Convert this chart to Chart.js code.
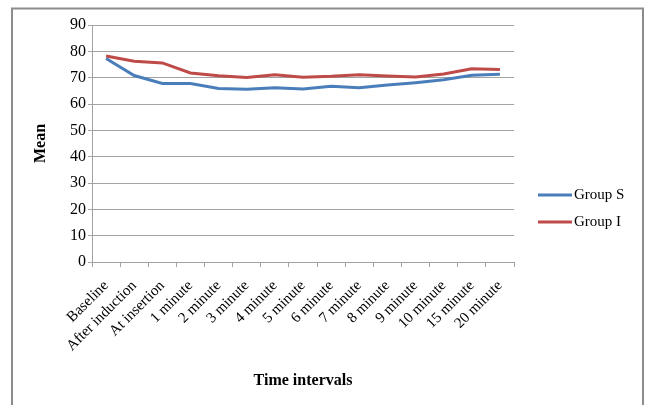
<!DOCTYPE html>
<html>
<head>
<meta charset="utf-8">
<script src="https://cdn.jsdelivr.net/npm/chart.js@4/dist/chart.umd.min.js"></script>
<style>
  html, body { margin: 0; padding: 0; background: #ffffff; }
  canvas { display: block; }
</style>
</head>
<body>
<canvas id="chart" width="646" height="405"></canvas>
<script>
// Time points of the measurement
const timeIntervals = [
  'Baseline', 'After induction', 'At insertion', '1 minute', '2 minute',
  '3 minute', '4 minute', '5 minute', '6 minute', '7 minute',
  '8 minute', '9 minute', '10 minute', '15 minute', '20 minute'
];

// Mean values per group
const groupS = [77.3, 70.8, 67.8, 67.8, 65.9, 65.6, 66.2, 65.7, 66.7, 66.2, 67.2, 68.1, 69.2, 70.9, 71.3];
const groupI = [78.2, 76.2, 75.6, 71.8, 70.7, 70.1, 71.1, 70.2, 70.5, 71.1, 70.6, 70.3, 71.4, 73.4, 73.1];

// Y axis range
const yMin = 0;
const yMax = 90;
const yStep = 10;

const serif = '"Liberation Serif", "Times New Roman", serif';
const gridColor = '#a3a3a3';

// Outer frame and side legend
const framePlugin = {
  id: 'frame',
  afterDraw(chart) {
    const ctx = chart.ctx;
    ctx.save();
    ctx.strokeStyle = '#8c8c8c';
    ctx.lineWidth = 2;
    ctx.beginPath();
    ctx.moveTo(12, 405);
    ctx.lineTo(12, 8.5);
    ctx.lineTo(643, 8.5);
    ctx.lineTo(643, 405);
    ctx.stroke();

    // legend entries in dataset order
    const ds = chart.data.datasets;
    const x0 = 538, x1 = 572, y0 = 195, gap = 27;
    ctx.font = '15px ' + serif;
    ctx.textBaseline = 'middle';
    ctx.textAlign = 'left';
    ds.forEach((d, i) => {
      const y = y0 + i * gap;
      ctx.strokeStyle = d.borderColor;
      ctx.lineWidth = 3;
      ctx.beginPath();
      ctx.moveTo(x0, y);
      ctx.lineTo(x1, y);
      ctx.stroke();
      ctx.fillStyle = '#000000';
      ctx.fillText(d.label, x1 + 2, y);
    });
    ctx.restore();
  }
};

new Chart(document.getElementById('chart'), {
  type: 'line',
  data: {
    labels: timeIntervals,
    datasets: [
      {
        label: 'Group S',
        data: groupS,
        borderColor: '#4a7ebb',
        backgroundColor: '#4a7ebb',
        borderWidth: 3,
        pointRadius: 0,
        tension: 0,
        order: 2
      },
      {
        label: 'Group I',
        data: groupI,
        borderColor: '#be4b48',
        backgroundColor: '#be4b48',
        borderWidth: 3,
        pointRadius: 0,
        tension: 0,
        order: 1
      }
    ]
  },
  options: {
    responsive: false,
    animation: false,
    layout: { padding: { left: 0, top: 25, right: 132, bottom: 0 } },
    plugins: {
      legend: { display: false },
      tooltip: { enabled: false }
    },
    scales: {
      x: {
        offset: true,
        grid: {
          offset: true,
          drawOnChartArea: false,
          drawTicks: true,
          tickLength: 5,
          color: gridColor
        },
        border: { color: gridColor, width: 1 },
        ticks: {
          autoSkip: false,
          maxRotation: 45,
          minRotation: 45,
          padding: 10,
          color: '#000000',
          font: { family: serif, size: 15 }
        },
        title: {
          display: true,
          text: 'Time intervals',
          color: '#000000',
          font: { family: serif, size: 16, weight: 'bold' },
          padding: { top: 4, bottom: 15 }
        },
        afterFit(scale) { scale.height = 143; }
      },
      y: {
        min: yMin,
        max: yMax,
        grid: {
          color: gridColor,
          drawTicks: true,
          tickLength: 4
        },
        border: { color: gridColor, width: 1 },
        ticks: {
          stepSize: yStep,
          padding: 2,
          color: '#000000',
          font: { family: serif, size: 16 }
        },
        title: {
          display: true,
          text: 'Mean',
          color: '#000000',
          font: { family: serif, size: 16, weight: 'bold' },
          padding: { top: 31, bottom: 0 }
        },
        afterFit(scale) { scale.width = 92; }
      }
    }
  },
  plugins: [framePlugin]
});
</script>
</body>
</html>
